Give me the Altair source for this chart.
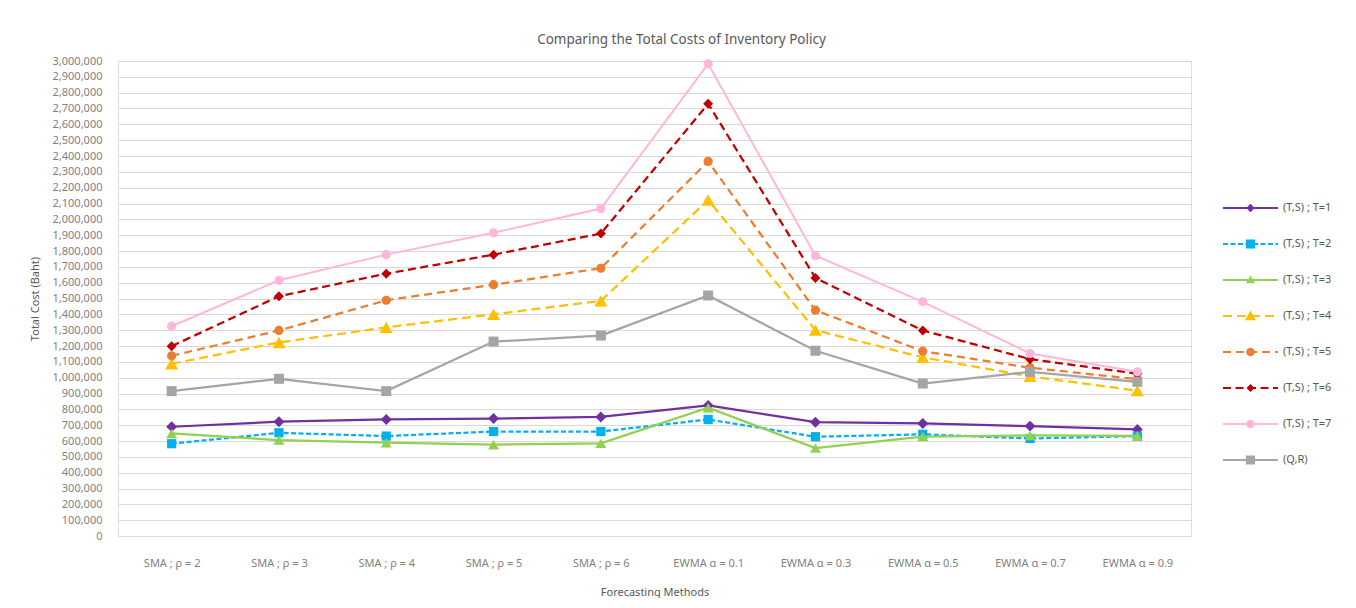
import altair as alt
import pandas as pd
import math

# ---------------- data ----------------
methods = ["SMA ; ρ = 2", "SMA ; ρ = 3", "SMA ; ρ = 4", "SMA ; ρ = 5", "SMA ; ρ = 6",
           "EWMA α = 0.1", "EWMA α = 0.3", "EWMA α = 0.5", "EWMA α = 0.7", "EWMA α = 0.9"]

series_names = ["(T,S) ; T=1", "(T,S) ; T=2", "(T,S) ; T=3", "(T,S) ; T=4",
                "(T,S) ; T=5", "(T,S) ; T=6", "(T,S) ; T=7", "(Q,R)"]

ts_t1 = [690000, 722000, 736000, 742000, 752000, 825000, 719000, 711000, 694000, 673000]
ts_t2 = [583000, 652000, 631000, 660000, 660000, 736000, 627000, 642000, 616000, 631000]
ts_t3 = [648000, 606000, 589000, 577000, 585000, 810000, 555000, 628000, 635000, 632000]
ts_t4 = [1088000, 1222000, 1318000, 1400000, 1485000, 2122000, 1300000, 1128000, 1008000, 918000]
ts_t5 = [1138000, 1298000, 1489000, 1587000, 1691000, 2366000, 1426000, 1167000, 1063000, 990000]
ts_t6 = [1199000, 1514000, 1657000, 1777000, 1910000, 2730000, 1630000, 1298000, 1117000, 1025000]
ts_t7 = [1325000, 1615000, 1777000, 1915000, 2068000, 2982000, 1770000, 1479000, 1153000, 1037000]
qr = [915000, 993000, 915000, 1228000, 1266000, 1519000, 1170000, 963000, 1037000, 974000]

all_values = [ts_t1, ts_t2, ts_t3, ts_t4, ts_t5, ts_t6, ts_t7, qr]

y_ticks = list(range(0, 3000001, 100000))

# ---------------- styles ----------------
colors = ["#7030A0", "#00B0F0", "#92D050", "#FFC000", "#ED7D31", "#C00000", "#FFB6DA", "#A5A5A5"]
dashes = [None, [5, 2.5], None, [9, 5], [8, 5], [8, 4.5], None, None]
shapes = ["diamond", "square", "triangle-up", "triangle-up", "circle", "diamond", "circle", "square"]
sizes = [120, 85, 120, 170, 85, 100, 85, 100]
line_widths = [2.25, 2.25, 2.25, 2.25, 2.25, 2.25, 2.0, 2.25]

# legend symbols: line + marker as one custom path (unit = half of the 55px symbol)
U = 27.5


def f(v):
    return f"{v / U:.4f}"


def rect(x0, x1, t=1.1):
    return f"M{f(x0)},{f(-t)}H{f(x1)}V{f(t)}H{f(x0)}Z"


def line_path(dash):
    if dash is None:
        return rect(-U, U)
    d, g = dash
    out = []
    x = -U
    while x < U:
        x1 = min(x + d, U)
        out.append(rect(x, x1))
        x = x1 + g
    return "".join(out)


def marker_path(shape, r):
    if shape == "diamond":
        return f"M0,{f(-r)}L{f(r)},0L0,{f(r)}L{f(-r)},0Z"
    if shape == "square":
        return f"M{f(-r)},{f(-r)}H{f(r)}V{f(r)}H{f(-r)}Z"
    if shape == "triangle-up":
        return f"M0,{f(-r)}L{f(r)},{f(r * 0.75)}L{f(-r)},{f(r * 0.75)}Z"
    pts = []
    for i in range(20):
        a = math.pi + 2 * math.pi * i / 20
        pts.append(f"{f(r * math.cos(a))},{f(r * math.sin(a))}")
    return "M" + "L".join(pts) + "Z"


legend_marker_r = [4.2, 4.5, 4.5, 5.5, 4.3, 4.0, 4.3, 4.6]
legend_paths = [line_path(dashes[i]) + marker_path(shapes[i], legend_marker_r[i])
                for i in range(len(series_names))]

# ---------------- table ----------------
rows = []
for name, vals in zip(series_names, all_values):
    for m, v in zip(methods, vals):
        rows.append({"method": m, "series": name, "value": v})
df = pd.DataFrame(rows)

FONT = "Noto Sans"
TXT = "#595959"

x_enc = alt.X("method:N", sort=methods,
              scale=alt.Scale(type="point", domain=methods, padding=0.5),
              axis=alt.Axis(title="Forecasting Methods", ticks=False, domain=False,
                            labelAngle=0, labelPadding=21, titlePadding=18,
                            labelFontSize=11, titleFontSize=11, titleFontWeight="normal",
                            labelColor="#7F7F7F", titleColor=TXT, grid=False))
y_enc = alt.Y("value:Q", scale=alt.Scale(domain=[0, 3000000], nice=False, zero=True),
              axis=alt.Axis(title="Total Cost (Baht)", values=y_ticks, format=",d",
                            ticks=False, domain=False, labelPadding=16, titlePadding=12,
                            labelFontSize=11, titleFontSize=11, titleFontWeight="normal",
                            labelColor="#7F7F7F", titleColor=TXT,
                            grid=True, gridColor="#D9D9D9", gridWidth=1.2))

layers = []
for i, name in enumerate(series_names):
    line_kwargs = dict(color=colors[i], strokeWidth=line_widths[i])
    if dashes[i] is not None:
        line_kwargs["strokeDash"] = dashes[i]
    ln = alt.Chart().transform_filter(alt.datum.series == name).mark_line(**line_kwargs).encode(
        x=x_enc, y=y_enc)
    pt = alt.Chart().transform_filter(alt.datum.series == name).mark_point(
        filled=True, shape=shapes[i], size=sizes[i], color=colors[i], opacity=1).encode(
        x=x_enc, y=y_enc)
    layers += [ln, pt]

legend_layer = alt.Chart().transform_filter("false").mark_point(
    filled=True, size=3025, opacity=1).encode(
    x=x_enc, y=y_enc,
    color=alt.Color("series:N", scale=alt.Scale(domain=series_names, range=colors),
                    legend=alt.Legend(title=None, orient="none", legendX=1105, legendY=139,
                                      symbolSize=3025, symbolStrokeWidth=0,
                                      clipHeight=16, rowPadding=20, labelOffset=5,
                                      labelFontSize=11, labelColor=TXT, labelFont=FONT,
                                      padding=0, symbolOpacity=1)),
    shape=alt.Shape("series:N", scale=alt.Scale(domain=series_names, range=legend_paths)),
)

chart = alt.layer(*layers, legend_layer, data=df).properties(
    width=1073, height=475,
    title=alt.TitleParams("Comparing the Total Costs of Inventory Policy", fontSize=13.5,
                          color=TXT, fontWeight="normal", font=FONT, anchor="middle",
                          dx=27, offset=9),
    padding={"left": 110, "top": 53, "right": 157, "bottom": 62},
    autosize=alt.AutoSizeParams(type="none"),
).configure_view(stroke=None).configure(font=FONT)

chart.save("out.html", embed_options={"renderer": "svg", "actions": False})
